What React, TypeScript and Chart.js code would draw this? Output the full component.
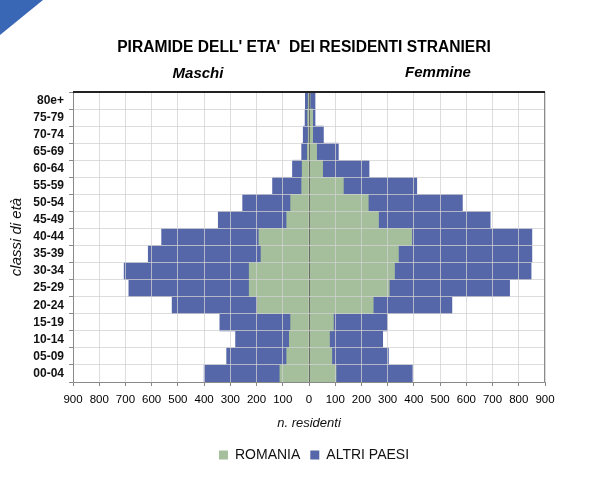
import React, { useEffect, useRef } from "react";
import { Chart, registerables } from "chart.js";

Chart.register(...registerables);

const FONT = '"Liberation Sans", Arial, Helvetica, sans-serif';

const CHART_TITLE = "PIRAMIDE DELL' ETA'  DEI RESIDENTI STRANIERI";
const MALE_LABEL = "Maschi";
const FEMALE_LABEL = "Femmine";
const X_TITLE = "n. residenti";
const Y_TITLE = "classi di età";
const SERIES_NAMES = ["ROMANIA", "ALTRI PAESI"];

const ageClasses = [
  "80e+", "75-79", "70-74", "65-69", "60-64", "55-59", "50-54", "45-49",
  "40-44", "35-39", "30-34", "25-29", "20-24", "15-19", "10-14", "05-09", "00-04",
];

const maleRomania = [3, 5, 3, 6, 26, 28, 70, 85, 191, 183, 228, 228, 197, 70, 75, 85, 111];
const maleAltri = [11, 10, 19, 22, 37, 111, 183, 261, 371, 430, 477, 459, 325, 270, 205, 229, 289];
const femaleRomania = [4, 14, 14, 29, 52, 131, 226, 265, 392, 341, 326, 306, 245, 93, 78, 87, 103];
const femaleAltri = [19, 9, 41, 83, 177, 280, 359, 426, 458, 509, 521, 459, 300, 206, 203, 216, 291];

const xMin = -900;
const xMax = 900;
const xStep = 100;

const GREEN = "#A5BE9B";
const BLUE = "#5566A9";

const decorPlugin = {
  id: "decor",
  beforeDraw(chart: any) {
    const ctx = chart.ctx;
    ctx.save();
    ctx.fillStyle = "#ffffff";
    ctx.fillRect(0, 0, chart.width, chart.height);
    ctx.fillStyle = "#3A66B6";
    ctx.beginPath();
    ctx.moveTo(0, 0);
    ctx.lineTo(43, 0);
    ctx.lineTo(0, 35);
    ctx.closePath();
    ctx.fill();
    ctx.fillStyle = "#000000";
    ctx.textAlign = "center";
    ctx.textBaseline = "middle";
    ctx.font = `bold 15.6px ${FONT}`;
    ctx.fillText(CHART_TITLE, 304, 48);
    ctx.font = `italic bold 15px ${FONT}`;
    ctx.fillText(MALE_LABEL, 198, 74);
    ctx.fillText(FEMALE_LABEL, 438, 73);
    ctx.restore();
  },
  afterDraw(chart: any) {
    const { left, right, top, bottom } = chart.chartArea;
    const ctx = chart.ctx;
    ctx.save();
    ctx.lineWidth = 1;
    ctx.strokeStyle = "#8a8a8a";
    ctx.beginPath();
    ctx.moveTo(left + 0.5, top);
    ctx.lineTo(left + 0.5, bottom + 0.5);
    ctx.lineTo(right - 0.5, bottom + 0.5);
    ctx.lineTo(right - 0.5, top);
    ctx.stroke();
    ctx.strokeStyle = "#222222";
    ctx.lineWidth = 2;
    ctx.beginPath();
    ctx.moveTo(left, top);
    ctx.lineTo(right, top);
    ctx.stroke();
    ctx.restore();
  },
};

export default function App() {
  const canvasRef = useRef<HTMLCanvasElement>(null);

  useEffect(() => {
    if (!canvasRef.current) return;
    const gridColor = "rgba(210,210,210,0.75)";
    const chart = new Chart(canvasRef.current, {
      type: "bar",
      data: {
        labels: ageClasses,
        datasets: [
          { label: SERIES_NAMES[0], data: maleRomania.map((v) => -v), backgroundColor: GREEN },
          { label: SERIES_NAMES[0], data: femaleRomania, backgroundColor: GREEN },
          { label: SERIES_NAMES[1], data: maleAltri.map((v) => -v), backgroundColor: BLUE },
          { label: SERIES_NAMES[1], data: femaleAltri, backgroundColor: BLUE },
        ],
      },
      options: {
        indexAxis: "y",
        responsive: false,
        animation: false,
        devicePixelRatio: 1,
        barPercentage: 1,
        categoryPercentage: 1,
        borderWidth: 0,
        layout: { padding: { top: 92, left: 28, right: -7, bottom: 12 } },
        plugins: {
          tooltip: { enabled: false },
          title: { display: false },
          legend: {
            position: "bottom",
            labels: {
              boxWidth: 9,
              boxHeight: 9,
              padding: 10,
              color: "#111",
              font: { family: FONT, size: 14 },
              filter: (item: any) => item.datasetIndex === 1 || item.datasetIndex === 3,
            },
          },
        },
        scales: {
          x: {
            stacked: true,
            min: xMin,
            max: xMax,
            ticks: {
              stepSize: xStep,
              autoSkip: false,
              maxRotation: 0,
              padding: 7,
              color: "#000",
              font: { family: FONT, size: 11.5 },
              callback: (v: any) => String(Math.abs(Number(v))),
            },
            grid: {
              z: 1,
              color: (c: any) => (c.tick && c.tick.value === 0 ? "#6b6b6b" : gridColor),
              tickColor: "#8a8a8a",
              tickLength: 4,
            },
            border: { display: false },
            title: {
              display: true,
              text: X_TITLE,
              color: "#111",
              font: { family: FONT, size: 13, style: "italic" },
              padding: { top: 4, bottom: 7.2 },
            },
            afterFit: (s: any) => {
              s.height = 56;
            },
          },
          y: {
            stacked: true,
            ticks: {
              autoSkip: false,
              padding: 5,
              color: "#111",
              font: { family: FONT, size: 12, weight: "bold" },
            },
            grid: {
              z: 1,
              color: gridColor,
              tickColor: "#8a8a8a",
              tickLength: 4,
            },
            border: { display: false },
            title: {
              display: true,
              text: Y_TITLE,
              color: "#111",
              font: { family: FONT, size: 15, style: "italic" },
              padding: { top: -20, bottom: 0 },
            },
            afterFit: (s: any) => {
              s.width = 45;
            },
          },
          yR: {
            type: "category",
            position: "right",
            display: true,
            ticks: { display: false },
            grid: { display: false, drawTicks: false },
            border: { display: false },
            afterFit: (s: any) => {
              s.width = 55;
            },
          },
        },
      } as any,
      plugins: [decorPlugin],
    });
    return () => chart.destroy();
  }, []);

  return (
    <div style={{ position: "absolute", left: 0, top: 0, width: 593, height: 484 }}>
      <canvas ref={canvasRef} width={593} height={484} style={{ display: "block" }} />
    </div>
  );
}
